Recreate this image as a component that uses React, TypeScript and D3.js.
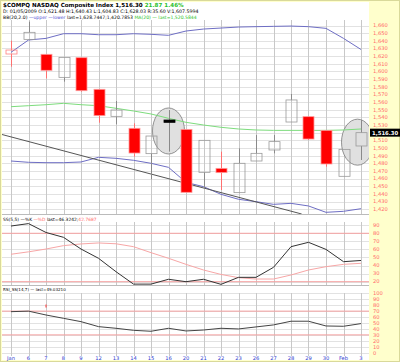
import React, { useRef, useEffect } from 'react';
import * as d3 from 'd3';

// dates on the x axis (Jan 5 2009 .. Feb 3 2009)
const dateLabels = ['Jan', '6', '7', '8', '9', '12', '13', '14', '15', '16', '20', '21', '22', '23', '26', '27', '28', '29', '30', 'Feb', '3'];

// candles
const opens = [1622.8, 1641.9, 1622.4, 1592.3, 1618.0, 1576.7, 1541.4, 1525.8, 1492.7, 1536.6, 1524.4, 1468.3, 1473.5, 1441.8, 1483.1, 1497.5, 1534.0, 1541.0, 1523.1, 1463.1, 1502.7];
const highs = [1640.2, 1665.0, 1622.4, 1618.4, 1618.0, 1576.7, 1561.4, 1532.3, 1515.7, 1549.7, 1524.4, 1510.1, 1495.3, 1499.6, 1517.0, 1517.0, 1570.6, 1541.0, 1523.1, 1498.3, 1536.6];
const lows = [1606.3, 1641.9, 1591.0, 1586.7, 1573.6, 1533.1, 1531.0, 1488.8, 1459.2, 1495.3, 1442.2, 1447.4, 1445.2, 1441.8, 1483.1, 1493.1, 1534.0, 1510.5, 1475.7, 1463.1, 1484.4];
const closes = [1628.0, 1651.1, 1601.5, 1618.4, 1574.9, 1542.3, 1549.7, 1493.5, 1515.7, 1533.6, 1442.2, 1510.1, 1467.9, 1480.1, 1493.1, 1508.4, 1562.8, 1511.8, 1479.2, 1498.3, 1520.1];
const prevClose = 1632.21;

const bbUpper = [1625.0, 1641.1, 1643.2, 1649.3, 1649.3, 1648.0, 1648.0, 1649.3, 1648.5, 1647.2, 1652.8, 1655.4, 1656.7, 1658.0, 1658.5, 1658.9, 1659.3, 1658.5, 1656.3, 1643.2, 1628.7];
const bbLower = [1483.1, 1481.4, 1480.9, 1480.9, 1481.8, 1487.9, 1486.6, 1484.0, 1480.1, 1474.8, 1455.2, 1449.6, 1439.6, 1433.1, 1430.0, 1426.5, 1427.8, 1424.4, 1416.1, 1417.4, 1420.8];
const ma20 = [1554.0, 1555.3, 1556.6, 1558.4, 1556.6, 1555.3, 1551.9, 1548.4, 1544.5, 1538.8, 1533.6, 1530.1, 1527.1, 1524.9, 1523.6, 1523.1, 1523.1, 1523.1, 1523.1, 1523.6, 1524.9];

const stochK = [89, 92, 81, 75, 60.5, 49, 32.4, 17, 17, 23, 20, 23, 16.7, 25.4, 25.4, 37.8, 63.4, 68.8, 60, 44.8, 46.3];
const stochD = [54, 57, 60.5, 64.7, 66.8, 68, 67, 63.4, 56, 49, 41.5, 34.5, 29, 25, 23.3, 23.3, 28.3, 34.5, 38.6, 41.5, 42.8];
const rsi = [69.1, 70, 63.5, 57.9, 52.3, 43.9, 41.1, 37.7, 36.1, 41.1, 36.6, 38.2, 41.1, 40, 43.4, 46.8, 53, 53, 45, 44.5, 49];

const priceTicks = [1420, 1430, 1440, 1450, 1460, 1470, 1480, 1490, 1500, 1510, 1520, 1530, 1540, 1550, 1560, 1570, 1580, 1590, 1600, 1610, 1620, 1630, 1640, 1650, 1660];
const stochTicks = [20, 30, 40, 50, 60, 70, 80, 90];
const rsiTicks = [0, 10, 20, 30, 40, 50, 60, 70, 80, 90, 100];

// annotations drawn on the chart
const trendLine = [{ i: -0.63, p: 1518.4 }, { i: 16.61, p: 1413.9 }];
const circles = [{ i: 9, p: 1522.3 }, { i: 19.8, p: 1507.7 }];
const rsiMark = { i: 2, v: 78.6 };

// header pieces: text, colour
type Seg = [string, string];
const headerTitle: Seg[] = [['$COMPQ NASDAQ Composite Index 1,516.30 ', '#000'], ['21.87 1.46%', '#2bbf2b']];
const headerBar: Seg[] = [['D: 01/05/2009 O:1,621.48 H:1,640.43 L:1,604.83 C:1,628.03 R:35.60 V:1,607.5994', '#000']];
const headerBB: Seg[] = [
    ['BB(20,2.0) ', '#000'], ['\u2014upper \u2014lower ', '#4a4ad0'],
    ['last=1,628.7447;1,420.7853 ', '#000'], ['MA(20) \u2014 last=1,520.5844', '#2bbf2b'],
];
const headerStoch: Seg[] = [['SS(5,5) \u2014%K ', '#000'], ['\u2014%D ', '#ff6a6a'], ['last=46.3242;', '#000'], ['42.7687', '#ff6a6a']];
const headerRsi: Seg[] = [['RSI_SS(14,7) \u2014 last=49.03210', '#000']];

const font = '"DejaVu Sans", Verdana, sans-serif';

const App = () => {
    const svgRef = useRef<SVGSVGElement>(null);
    useEffect(() => {
        const svg = d3.select(svgRef.current);
        svg.selectAll('*').remove();

        const left = 2, right = 369;
        const mainTop = 20, mainBot = 214;
        const stTop = 214, stBot = 285;
        const rsTop = 285, rsBot = 353;

        // frame
        svg.append('rect').attr('x', 0.5).attr('y', 0.5).attr('width', 399).attr('height', 361)
            .attr('fill', '#ffffcc').attr('stroke', '#d9d99a');
        svg.append('rect').attr('x', left).attr('y', 2).attr('width', right - left).attr('height', 358)
            .attr('fill', '#fff');

        const x = d3.scaleLinear().domain([0, 20]).range([11, 361]);
        const yMain = d3.scaleLinear().domain([1413.9, 1667.2]).range([mainBot, mainTop]);
        const ySt = d3.scaleLinear().domain([15.9, 103.9]).range([stBot, stTop]);
        const yRs = d3.scaleLinear().domain([-0.5, 114]).range([rsBot, rsTop]);

        svg.append('clipPath').attr('id', 'mainClip').append('rect')
            .attr('x', left).attr('y', mainTop).attr('width', right - left).attr('height', mainBot - mainTop);

        // horizontal grid
        const hgrid = (ticks: number[], y: d3.ScaleLinear<number, number>) => {
            svg.append('g').selectAll('line').data(ticks).join('line')
                .attr('x1', left).attr('x2', right)
                .attr('y1', d => Math.round(y(d)) + 0.5).attr('y2', d => Math.round(y(d)) + 0.5)
                .attr('stroke', '#e2e2e2');
        };
        hgrid(priceTicks, yMain);
        hgrid(stochTicks, ySt);
        hgrid(rsiTicks, yRs);

        // vertical grid
        const vgrid = (y0: number, y1: number) => {
            svg.append('g').selectAll('line').data(dateLabels).join('line')
                .attr('x1', (d, i) => Math.round(x(i)) + 0.5).attr('x2', (d, i) => Math.round(x(i)) + 0.5)
                .attr('y1', y0).attr('y2', y1)
                .attr('stroke', '#c8c8c8');
        };
        vgrid(mainTop, mainBot);
        vgrid(stTop + 8, stBot);
        vgrid(rsTop + 8, rsBot + 3);

        // signal lines
        [80, 20].forEach(v => svg.append('line').attr('x1', left).attr('x2', right)
            .attr('y1', ySt(v)).attr('y2', ySt(v)).attr('stroke', '#f5a0a0'));
        [70, 30].forEach(v => svg.append('line').attr('x1', left).attr('x2', right)
            .attr('y1', yRs(v)).attr('y2', yRs(v)).attr('stroke', '#f5a0a0'));

        const main = svg.append('g').attr('clip-path', 'url(#mainClip)');

        // highlight circles
        main.selectAll('ellipse').data(circles).join('ellipse')
            .attr('cx', d => x(d.i)).attr('cy', d => yMain(d.p))
            .attr('rx', 16).attr('ry', 23)
            .attr('fill', '#e0e0e0').attr('stroke', '#7a7a7a').attr('stroke-width', 0.8);

        const line = (y: d3.ScaleLinear<number, number>) => d3.line<number>().x((d, i) => x(i)).y(d => y(d));
        main.append('path').attr('d', line(yMain)(bbUpper)).attr('fill', 'none').attr('stroke', '#6e6ec4');
        main.append('path').attr('d', line(yMain)(bbLower)).attr('fill', 'none').attr('stroke', '#6e6ec4');
        main.append('path').attr('d', line(yMain)(ma20)).attr('fill', 'none').attr('stroke', '#7ddc7d');
        main.append('line')
            .attr('x1', x(trendLine[0].i)).attr('y1', yMain(trendLine[0].p))
            .attr('x2', x(trendLine[1].i)).attr('y2', yMain(trendLine[1].p))
            .attr('stroke', '#555');

        // candles
        const bw = 11;
        dateLabels.forEach((d, i) => {
            const o = opens[i], c = closes[i], h = highs[i], l = lows[i];
            const before = i === 0 ? prevClose : closes[i - 1];
            const isRed = c < before;
            const filled = c < o;
            const cx = Math.round(x(i)) + 0.5;
            const top = yMain(Math.max(o, c)), bot = yMain(Math.min(o, c));
            const wick = isRed ? '#ff7070' : '#8a8a8a';
            main.append('line').attr('x1', cx).attr('x2', cx).attr('y1', yMain(h)).attr('y2', top).attr('stroke', wick);
            main.append('line').attr('x1', cx).attr('x2', cx).attr('y1', bot).attr('y2', yMain(l)).attr('stroke', wick);
            main.append('rect')
                .attr('x', cx - bw / 2).attr('y', top)
                .attr('width', bw).attr('height', Math.max(1.5, bot - top))
                .attr('fill', filled ? (isRed ? '#ff0000' : '#000') : 'none')
                .attr('stroke', isRed ? (filled ? '#ff9a9a' : '#ff8080') : (filled ? '#000' : '#9a9a9a'))
                .attr('stroke-width', 0.8);
        });

        // stochastic
        svg.append('path').attr('d', line(ySt)(stochD)).attr('fill', 'none').attr('stroke', '#f7a6a6');
        svg.append('path').attr('d', line(ySt)(stochK)).attr('fill', 'none').attr('stroke', '#333');

        // rsi
        svg.append('path').attr('d', line(yRs)(rsi)).attr('fill', 'none').attr('stroke', '#444');
        svg.append('line').attr('x1', x(rsiMark.i)).attr('x2', x(rsiMark.i))
            .attr('y1', yRs(rsiMark.v) - 1.5).attr('y2', yRs(rsiMark.v) + 1.5).attr('stroke', '#f33');

        // panel separators
        [stTop, rsTop].forEach(yy => svg.append('line').attr('x1', left).attr('x2', right)
            .attr('y1', yy + 0.5).attr('y2', yy + 0.5).attr('stroke', '#bbb'));

        // right axis labels
        const lastClose = closes[closes.length - 1];
        const yc = yMain(lastClose);
        const axisText = (ticks: number[], y: d3.ScaleLinear<number, number>, fmt: (v: number) => string) => {
            svg.append('g').selectAll('text').data(ticks.filter(t => Math.abs(y(t) - yc) > 6 || y !== yMain)).join('text')
                .attr('x', 373).attr('y', d => y(d) + 1.8)
                .attr('font-family', font).attr('font-size', 5.2).attr('fill', '#ff6a6a')
                .text(d => fmt(d));
        };
        axisText(priceTicks, yMain, d3.format(','));
        axisText(stochTicks, ySt, String);
        axisText(rsiTicks, yRs, String);

        // last close box
        svg.append('rect').attr('x', 370).attr('y', yc - 4).attr('width', 30).attr('height', 8).attr('fill', '#000');
        svg.append('text').attr('x', 372).attr('y', yc + 2).attr('font-family', font).attr('font-size', 5.3)
            .attr('font-weight', 'bold').attr('fill', '#fff').text('1,516.30');

        // x axis labels
        svg.append('g').selectAll('text').data(dateLabels).join('text')
            .attr('x', (d, i) => x(i)).attr('y', 359.5).attr('text-anchor', 'middle')
            .attr('font-family', font).attr('font-size', 5.2).attr('fill', '#3040d0')
            .text(d => d);

        // headers: one text per line, font size fitted to the width seen in the picture
        const header = (yy: number, width: number, segs: Seg[], bold = false) => {
            const t = svg.append('text').attr('x', 3).attr('y', yy)
                .attr('font-family', font).attr('font-size', 6)
                .attr('font-weight', bold ? 'bold' : 'normal');
            segs.forEach(([s, col]) => t.append('tspan').attr('fill', col).text(s));
            const len = (t.node() as SVGTextElement).getComputedTextLength();
            if (len > 0) t.attr('font-size', Math.min(6.5, 6 * width / len));
        };
        header(6.8, 181, headerTitle, true);
        header(12.8, 196, headerBar);
        header(18.6, 194, headerBB);
        header(220.5, 94, headerStoch);
        header(291, 63, headerRsi);
    }, []);

    return <svg ref={svgRef} width={400} height={362} style={{ position: 'absolute', left: 0, top: 0 }} />;
};

export default App;
